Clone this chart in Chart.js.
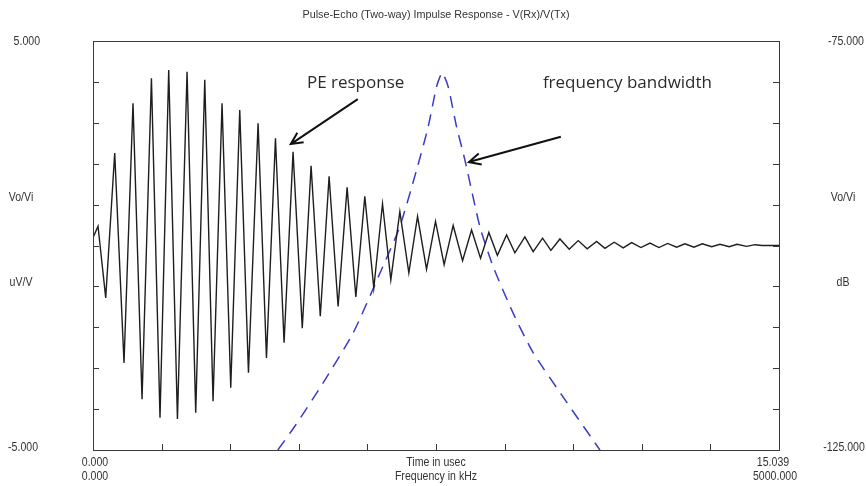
<!DOCTYPE html>
<html>
<head>
<meta charset="utf-8">
<script src="https://cdn.jsdelivr.net/npm/chart.js@4.4.1/dist/chart.umd.min.js"></script>
<style>
  html, body { margin: 0; padding: 0; background: #fff; }
  #wrap { width: 866px; height: 486px; }
</style>
</head>
<body>
<div id="wrap"><canvas id="pe-chart" width="866" height="486"></canvas></div>
<script>
// time trace: peaks and troughs of the pulse-echo response (usec, Vo/Vi)
const timeUs = [0, 0.110, 0.279, 0.476, 0.680, 0.877, 1.075, 1.281, 1.469, 1.660,
  1.851, 2.062, 2.252, 2.450, 2.632, 2.829, 3.020, 3.217, 3.408, 3.619,
  3.803, 4.000, 4.189, 4.386, 4.588, 4.781, 4.983, 5.176, 5.373, 5.571,
  5.762, 5.959, 6.156, 6.347, 6.529, 6.727, 6.924, 7.115, 7.312, 7.509,
  7.698, 7.896, 8.102, 8.299, 8.496, 8.678, 8.865, 9.067, 9.249, 9.468,
  9.650, 9.856, 10.038, 10.236, 10.440, 10.637, 10.834, 11.040, 11.223, 11.427,
  11.624, 11.808, 12.012, 12.210, 12.407, 12.598, 12.795, 12.977, 13.174, 13.357,
  13.563, 13.745, 13.949, 14.118, 14.330, 14.513, 14.666, 15.039];
const voRatio = [0.19, 0.47, -1.28, 2.26, -2.87, 3.48, -3.76, 4.09, -4.21, 4.29,
  -4.24, 4.25, -4.09, 4.05, -3.81, 3.48, -3.48, 3.31, -3.11, 2.99,
  -2.75, 2.62, -2.38, 2.29, -2.02, 1.95, -1.73, 1.69, -1.49, 1.42,
  -1.26, 1.20, -1.04, 1.02, -0.84, 0.83, -0.67, 0.71, -0.58, 0.59,
  -0.47, 0.49, -0.37, 0.38, -0.31, 0.32, -0.24, 0.26, -0.18, 0.21,
  -0.15, 0.18, -0.12, 0.16, -0.09, 0.12, -0.08, 0.10, -0.07, 0.08,
  -0.06, 0.07, -0.05, 0.06, -0.05, 0.05, -0.04, 0.04, -0.04, 0.04,
  -0.03, 0.03, -0.03, 0.03, -0.02, 0.02, 0, 0];

// frequency bandwidth (kHz, dB)
const freqKHz = [1347, 1471, 1677, 1896, 2091, 2236, 2358, 2443, 2504, 2545,
  2589, 2650, 2710, 2820, 2917, 3063, 3208, 3446, 3695];
const gainDb = [-125.0, -122.1, -116.8, -110.7, -103.4, -97.7, -90.8, -85.5, -80.6, -78.9,
  -80.6, -85.5, -89.5, -97.7, -102.6, -108.3, -113.1, -119.0, -125.0];

const timeRange = [0, 15.039];
const voltRange = [-5, 5];
const freqRange = [0, 5000];
const dbRange = [-125, -75];

const labelFont = "12px 'Liberation Sans', Arial, sans-serif";
const titleFont = "10.8px 'Liberation Sans', Arial, sans-serif";
const noteFont = "17px 'Open Sans', 'Noto Sans', sans-serif";

const wavePoints = timeUs.map((t, i) => ({ x: t, y: voRatio[i] }));
const bandPoints = freqKHz.map((f, i) => ({ x: f, y: gainDb[i] }));

// axis labels in the original look tall and narrow
function narrowText(ctx, text, x, y, align) {
  const sq = 0.88;
  ctx.save();
  ctx.textAlign = align || "center";
  ctx.translate(x, y);
  ctx.scale(sq, 1);
  ctx.fillText(text, 0, 0);
  ctx.restore();
}

function arrow(ctx, x1, y1, x2, y2) {
  const ang = Math.atan2(y2 - y1, x2 - x1);
  const len = 13;
  ctx.beginPath();
  ctx.moveTo(x1, y1);
  ctx.lineTo(x2, y2);
  ctx.moveTo(x2 - len * Math.cos(ang - 0.45), y2 - len * Math.sin(ang - 0.45));
  ctx.lineTo(x2, y2);
  ctx.lineTo(x2 - len * Math.cos(ang + 0.45), y2 - len * Math.sin(ang + 0.45));
  ctx.stroke();
}

const framePlugin = {
  id: "frame",
  afterDraw(chart) {
    const ctx = chart.ctx;
    const a = chart.chartArea;
    const sx = chart.scales.x, sy = chart.scales.y;
    const sf = chart.scales.xf, sd = chart.scales.ydb;
    ctx.save();

    // frame and inward ticks
    ctx.strokeStyle = "#3a3a3a";
    ctx.lineWidth = 1;
    ctx.strokeRect(Math.round(a.left) + 0.5, Math.round(a.top) + 0.5,
      Math.round(a.right - a.left), Math.round(a.bottom - a.top));
    ctx.beginPath();
    for (let i = 1; i < 10; i++) {
      const py = Math.round(sy.getPixelForValue(voltRange[0] + i)) + 0.5;
      ctx.moveTo(a.left, py); ctx.lineTo(a.left + 6, py);
      ctx.moveTo(a.right, py); ctx.lineTo(a.right - 6, py);
      const px = Math.round(sx.getPixelForValue(timeRange[1] * i / 10)) + 0.5;
      ctx.moveTo(px, a.bottom); ctx.lineTo(px, a.bottom - 6);
    }
    ctx.stroke();

    // text
    ctx.fillStyle = "#333";
    ctx.textBaseline = "middle";
    ctx.textAlign = "center";
    const cx = (a.left + a.right) / 2;
    ctx.font = titleFont;
    ctx.fillText("Pulse-Echo (Two-way) Impulse Response - V(Rx)/V(Tx)", cx, 15);
    ctx.font = labelFont;
    narrowText(ctx, "Time in usec", cx, 463);
    narrowText(ctx, "Frequency in kHz", cx, 477);
    narrowText(ctx, "0.000", a.left + 2, 463);
    narrowText(ctx, "0.000", a.left + 2, 477);
    narrowText(ctx, "15.039", a.right - 6, 463);
    narrowText(ctx, "5000.000", a.right - 4, 477);
    narrowText(ctx, "Vo/Vi", 21, 198);
    narrowText(ctx, "uV/V", 21, 283);
    narrowText(ctx, "Vo/Vi", 843, 198);
    narrowText(ctx, "dB", 843, 283);
    narrowText(ctx, "-75.000", 846, a.top + 1);
    narrowText(ctx, "-125.000", 844, a.bottom - 2);
    narrowText(ctx, "5.000", 40, a.top + 1, "right");
    narrowText(ctx, "-5.000", 38, a.bottom - 2, "right");

    // annotations
    ctx.font = noteFont;
    ctx.fillStyle = "#2b2b2b";
    ctx.textAlign = "left";
    ctx.fillText("PE response", sx.getPixelForValue(4.69), sy.getPixelForValue(3.97));
    ctx.fillText("frequency bandwidth", sf.getPixelForValue(3279), sd.getPixelForValue(-80.1));
    ctx.strokeStyle = "#111";
    ctx.lineWidth = 2;
    arrow(ctx, sx.getPixelForValue(5.805), sy.getPixelForValue(3.58),
      sx.getPixelForValue(4.336), sy.getPixelForValue(2.48));
    arrow(ctx, sf.getPixelForValue(3410), sd.getPixelForValue(-86.7),
      sf.getPixelForValue(2740), sd.getPixelForValue(-89.8));
    ctx.restore();
  }
};

const config_pe = {
  type: "line",
  data: {
    datasets: [
      {
        label: "PE response",
        data: wavePoints,
        xAxisID: "x",
        yAxisID: "y",
        borderColor: "#1e1e1e",
        borderWidth: 1.4,
        pointRadius: 0,
        tension: 0,
      },
      {
        label: "frequency bandwidth",
        data: bandPoints,
        xAxisID: "xf",
        yAxisID: "ydb",
        borderColor: "#3b3bc8",
        borderWidth: 1.5,
        borderDash: [12, 8],
        pointRadius: 0,
        tension: 0.2,
      },
    ],
  },
  options: {
    responsive: false,
    animation: false,
    layout: { padding: { left: 93, right: 87, top: 41, bottom: 36 } },
    scales: {
      x: { type: "linear", min: timeRange[0], max: timeRange[1], display: false },
      xf: { type: "linear", min: freqRange[0], max: freqRange[1], display: false },
      y: { type: "linear", min: voltRange[0], max: voltRange[1], display: false },
      ydb: { type: "linear", min: dbRange[0], max: dbRange[1], display: false },
    },
    plugins: {
      legend: { display: false },
      tooltip: { enabled: false },
      title: { display: false },
    },
  },
  plugins: [framePlugin],
};

var ctx_pe = document.getElementById("pe-chart").getContext("2d");
var peChart = new Chart(ctx_pe, config_pe);
</script>
</body>
</html>
